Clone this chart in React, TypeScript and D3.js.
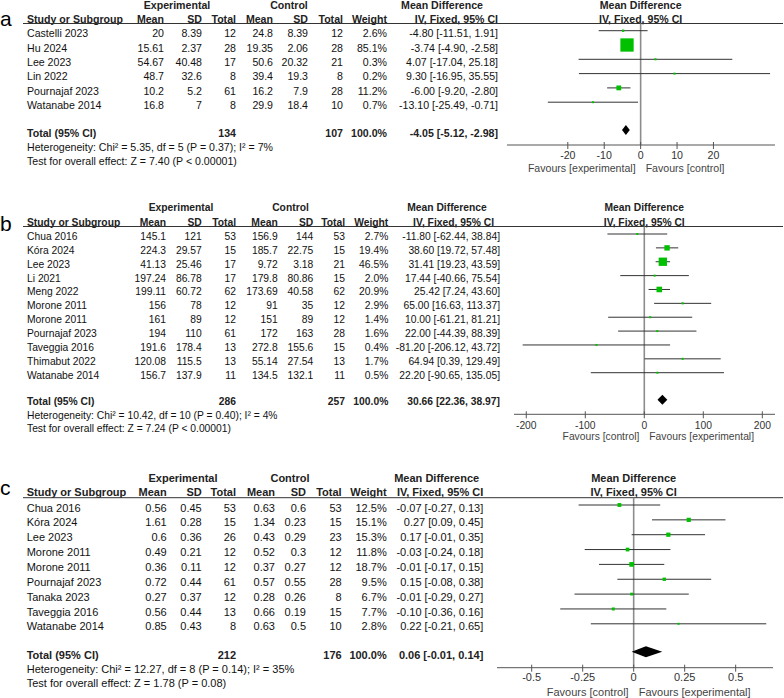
import React from 'react';
import * as d3 from 'd3';

// ---- panel a ----
const aStudy = ['Castelli 2023', 'Hu 2024', 'Lee 2023', 'Lin 2022', 'Pournajaf 2023', 'Watanabe 2014'];
const aExpMean = [20, 15.61, 54.67, 48.7, 10.2, 16.8];
const aExpSD = [8.39, 2.37, 40.48, 32.6, 5.2, 7];
const aExpN = [12, 28, 17, 8, 61, 8];
const aCtrlMean = [24.8, 19.35, 50.6, 39.4, 16.2, 29.9];
const aCtrlSD = [8.39, 2.06, 20.32, 19.3, 7.9, 18.4];
const aCtrlN = [12, 28, 21, 8, 28, 10];
const aWeight = [2.6, 85.1, 0.3, 0.2, 11.2, 0.7];
const aMD = [-4.8, -3.74, 4.07, 9.3, -6.0, -13.1];
const aLo = [-11.51, -4.9, -17.04, -16.95, -9.2, -25.49];
const aHi = [1.91, -2.58, 25.18, 35.55, -2.8, -0.71];
const aTotal = [134, 107]; // exp N, ctrl N
const aPooled = [-4.05, -5.12, -2.98];
const aTicks = [-20, -10, 0, 10, 20];
const aTickLabels = ['-20', '-10', '0', '10', '20'];
const aFavours = ['Favours [experimental]', 'Favours [control]'];
const aHet = 'Heterogeneity: Chi² = 5.35, df = 5 (P = 0.37); I² = 7%';
const aTest = 'Test for overall effect: Z = 7.40 (P < 0.00001)';

// ---- panel b ----
const bStudy = ['Chua 2016', 'Kóra 2024', 'Lee 2023', 'Li 2021', 'Meng 2022', 'Morone 2011', 'Morone 2011', 'Pournajaf 2023', 'Taveggia 2016', 'Thimabut 2022', 'Watanabe 2014'];
const bExpMean = [145.1, 224.3, 41.13, 197.24, 199.11, 156, 161, 194, 191.6, 120.08, 156.7];
const bExpSD = [121, 29.57, 25.46, 86.78, 60.72, 78, 89, 110, 178.4, 115.5, 137.9];
const bExpN = [53, 15, 17, 17, 62, 12, 12, 61, 13, 13, 11];
const bCtrlMean = [156.9, 185.7, 9.72, 179.8, 173.69, 91, 151, 172, 272.8, 55.14, 134.5];
const bCtrlSD = [144, 22.75, 3.18, 80.86, 40.58, 35, 89, 163, 155.6, 27.54, 132.1];
const bCtrlN = [53, 15, 21, 15, 62, 12, 12, 28, 15, 13, 11];
const bWeight = [2.7, 19.4, 46.5, 2.0, 20.9, 2.9, 1.4, 1.6, 0.4, 1.7, 0.5];
const bMD = [-11.8, 38.6, 31.41, 17.44, 25.42, 65.0, 10.0, 22.0, -81.2, 64.94, 22.2];
const bLo = [-62.44, 19.72, 19.23, -40.66, 7.24, 16.63, -61.21, -44.39, -206.12, 0.39, -90.65];
const bHi = [38.84, 57.48, 43.59, 75.54, 43.6, 113.37, 81.21, 88.39, 43.72, 129.49, 135.05];
const bTotal = [286, 257];
const bPooled = [30.66, 22.36, 38.97];
const bTicks = [-200, -100, 0, 100, 200];
const bTickLabels = ['-200', '-100', '0', '100', '200'];
const bFavours = ['Favours [control]', 'Favours [experimental]'];
const bHet = 'Heterogeneity: Chi² = 10.42, df = 10 (P = 0.40); I² = 4%';
const bTest = 'Test for overall effect: Z = 7.24 (P < 0.00001)';

// ---- panel c ----
const cStudy = ['Chua 2016', 'Kóra 2024', 'Lee 2023', 'Morone 2011', 'Morone 2011', 'Pournajaf 2023', 'Tanaka 2023', 'Taveggia 2016', 'Watanabe 2014'];
const cExpMean = [0.56, 1.61, 0.6, 0.49, 0.36, 0.72, 0.27, 0.56, 0.85];
const cExpSD = [0.45, 0.28, 0.36, 0.21, 0.11, 0.44, 0.37, 0.44, 0.43];
const cExpN = [53, 15, 26, 12, 12, 61, 12, 13, 8];
const cCtrlMean = [0.63, 1.34, 0.43, 0.52, 0.37, 0.57, 0.28, 0.66, 0.63];
const cCtrlSD = [0.6, 0.23, 0.29, 0.3, 0.27, 0.55, 0.26, 0.19, 0.5];
const cCtrlN = [53, 15, 23, 12, 12, 28, 8, 15, 10];
const cWeight = [12.5, 15.1, 15.3, 11.8, 18.7, 9.5, 6.7, 7.7, 2.8];
const cMD = [-0.07, 0.27, 0.17, -0.03, -0.01, 0.15, -0.01, -0.1, 0.22];
const cLo = [-0.27, 0.09, -0.01, -0.24, -0.17, -0.08, -0.29, -0.36, -0.21];
const cHi = [0.13, 0.45, 0.35, 0.18, 0.15, 0.38, 0.27, 0.16, 0.65];
const cTotal = [212, 176];
const cPooled = [0.06, -0.01, 0.14];
const cTicks = [-0.5, -0.25, 0, 0.25, 0.5];
const cTickLabels = ['-0.5', '-0.25', '0', '0.25', '0.5'];
const cFavours = ['Favours [control]', 'Favours [experimental]'];
const cHet = 'Heterogeneity: Chi² = 12.27, df = 8 (P = 0.14); I² = 35%';
const cTest = 'Test for overall effect: Z = 1.78 (P = 0.08)';

const FONT = '"Liberation Sans", Arial, Helvetica, sans-serif';

const panels = [
  {
    label: 'a', study: aStudy, expMean: aExpMean, expSD: aExpSD, expN: aExpN,
    ctrlMean: aCtrlMean, ctrlSD: aCtrlSD, ctrlN: aCtrlN, weight: aWeight,
    md: aMD, lo: aLo, hi: aHi, total: aTotal, pooled: aPooled,
    ticks: aTicks, tickLabels: aTickLabels, favours: aFavours, het: aHet, test: aTest,
    fs: 10.6, labelY: 26,
    cols: [27, 164, 202, 236, 273, 308, 343, 387, 498], ciHeadX: 498,
    groupX: [177, 289, 442], head1Y: 9, head2Y: 22.5, lineY: 23.5,
    rowY0: 30.7, rowStep: 14.3, textDy: 6.6,
    totalY: 136.5, diamondY: 130, diamondH: 5, hetY: 151, testY: 165,
    domain: [-36.7, 36.9], axisX: [507, 775], axisY: 145, tickLabY: 158.8, favY: 171.8,
    sq: 1.44,
  },
  {
    label: 'b', study: bStudy, expMean: bExpMean, expSD: bExpSD, expN: bExpN,
    ctrlMean: bCtrlMean, ctrlSD: bCtrlSD, ctrlN: bCtrlN, weight: bWeight,
    md: bMD, lo: bLo, hi: bHi, total: bTotal, pooled: bPooled,
    ticks: bTicks, tickLabels: bTickLabels, favours: bFavours, het: bHet, test: bTest,
    fs: 10.3, labelY: 231,
    cols: [27, 166, 201.7, 236, 277.7, 313.3, 345, 388.3, 500], ciHeadX: 494,
    groupX: [181, 290.5, 447], head1Y: 211.3, head2Y: 225.7, lineY: 226.5,
    rowY0: 234, rowStep: 13.87, textDy: 6,
    totalY: 405.4, diamondY: 399.7, diamondH: 5, hetY: 418.7, testY: 432,
    domain: [-220.8, 221.5], axisX: [514, 775], axisY: 414.3, tickLabY: 428.7, favY: 440.4,
    sq: 1.22,
  },
  {
    label: 'c', study: cStudy, expMean: cExpMean, expSD: cExpSD, expN: cExpN,
    ctrlMean: cCtrlMean, ctrlSD: cCtrlSD, ctrlN: cCtrlN, weight: cWeight,
    md: cMD, lo: cLo, hi: cHi, total: cTotal, pooled: cPooled,
    ticks: cTicks, tickLabels: cTickLabels, favours: cFavours, het: cHet, test: cTest,
    fs: 11.0, labelY: 495,
    cols: [26.7, 166.7, 201.7, 236, 275, 306, 341.7, 386.7, 483.3], ciHeadX: 483.3,
    groupX: [183, 290, 436.7], head1Y: 481.6, head2Y: 495.6, lineY: 497.7,
    rowY0: 505, rowStep: 14.85, textDy: 6.6,
    totalY: 659, diamondY: 651.7, diamondH: 5.5, hetY: 673.2, testY: 687.2,
    domain: [-0.67, 0.683], axisX: [497, 773], axisY: 667.7, tickLabY: 680.6, favY: 695.6,
    sq: 1.08,
  },
];

const f2 = (v: number) => v.toFixed(2);
const ciText = (m: number, l: number, h: number) => `${f2(m)} [${f2(l)}, ${f2(h)}]`;

function ForestPanel({ p }: { p: any }) {
  const x = d3.scaleLinear().domain(p.domain).range(p.axisX);
  const n = p.study.length;
  const y = d3.scaleLinear().domain([0, n - 1]).range([p.rowY0, p.rowY0 + p.rowStep * (n - 1)]);
  const c = p.cols;
  const x0 = x(0);
  const [pm, pl, ph] = p.pooled;
  const diamond = d3.line()([
    [x(pl), p.diamondY], [x(pm), p.diamondY - p.diamondH],
    [x(ph), p.diamondY], [x(pm), p.diamondY + p.diamondH],
  ]) + 'Z';
  const headCols = ['Mean', 'SD', 'Total', 'Mean', 'SD', 'Total', 'Weight'];

  return (
    <g fontFamily={FONT} fontSize={p.fs} fill="#111">
      <text x={0} y={p.labelY} fontSize={21} fill="#000">{p.label}</text>

      {/* table header */}
      <g fontWeight="bold" fill="#222">
        <text x={p.groupX[0]} y={p.head1Y} textAnchor="middle">Experimental</text>
        <text x={p.groupX[1]} y={p.head1Y} textAnchor="middle">Control</text>
        <text x={p.groupX[2]} y={p.head1Y} textAnchor="middle">Mean Difference</text>
        <text x={c[0]} y={p.head2Y}>Study or Subgroup</text>
        {headCols.map((h, i) => (
          <text key={i} x={c[i + 1]} y={p.head2Y} textAnchor="end">{h}</text>
        ))}
        <text x={p.ciHeadX} y={p.head2Y} textAnchor="end">IV, Fixed, 95% CI</text>
        <text x={x0} y={p.head1Y} textAnchor="middle">Mean Difference</text>
        <text x={x0} y={p.head2Y} textAnchor="middle">IV, Fixed, 95% CI</text>
      </g>
      <line x1={23} x2={783} y1={p.lineY} y2={p.lineY} stroke="#333" strokeWidth={1} />

      {/* study rows */}
      {p.study.map((s: string, i: number) => {
        const ty = y(i) + p.textDy;
        const vals = [p.expMean[i], p.expSD[i], p.expN[i], p.ctrlMean[i], p.ctrlSD[i], p.ctrlN[i]];
        return (
          <g key={i}>
            <text x={c[0]} y={ty}>{s}</text>
            {vals.map((v: number, j: number) => (
              <text key={j} x={c[j + 1]} y={ty} textAnchor="end">{String(v)}</text>
            ))}
            <text x={c[7]} y={ty} textAnchor="end">{p.weight[i].toFixed(1)}%</text>
            <text x={c[8]} y={ty} textAnchor="end">{ciText(p.md[i], p.lo[i], p.hi[i])}</text>
          </g>
        );
      })}

      {/* total */}
      <g fontWeight="bold" fill="#222">
        <text x={c[0]} y={p.totalY}>Total (95% CI)</text>
        <text x={c[3]} y={p.totalY} textAnchor="end">{p.total[0]}</text>
        <text x={c[6]} y={p.totalY} textAnchor="end">{p.total[1]}</text>
        <text x={c[7]} y={p.totalY} textAnchor="end">100.0%</text>
        <text x={c[8]} y={p.totalY} textAnchor="end">{ciText(pm, pl, ph)}</text>
      </g>
      <text x={c[0]} y={p.hetY}>{p.het}</text>
      <text x={c[0]} y={p.testY}>{p.test}</text>

      {/* plot */}
      <line x1={x0} x2={x0} y1={p.lineY} y2={p.axisY} stroke="#8c8c8c" strokeWidth={1.6} />
      {p.study.map((s: string, i: number) => {
        const side = Math.max(2, p.sq * Math.sqrt(p.weight[i]));
        return (
          <g key={'m' + i}>
            <line x1={x(p.lo[i])} x2={x(p.hi[i])} y1={y(i)} y2={y(i)} stroke="#333" strokeWidth={1} />
            <rect x={x(p.md[i]) - side / 2} y={y(i) - side / 2} width={side} height={side} fill="#00c000" />
          </g>
        );
      })}
      <path d={diamond} fill="#000" />

      {/* axis */}
      <line x1={p.axisX[0]} x2={p.axisX[1]} y1={p.axisY} y2={p.axisY} stroke="#555" strokeWidth={1} />
      {p.ticks.map((t: number, i: number) => (
        <g key={'t' + i}>
          <line x1={x(t)} x2={x(t)} y1={p.axisY - 3} y2={p.axisY + 4} stroke="#555" strokeWidth={1} />
          <text x={x(t)} y={p.tickLabY} textAnchor="middle" fill="#333">{p.tickLabels[i]}</text>
        </g>
      ))}
      <text x={x0 - 5} y={p.favY} textAnchor="end" fill="#444">{p.favours[0]}</text>
      <text x={x0 + 5} y={p.favY} fill="#444">{p.favours[1]}</text>
    </g>
  );
}

export default function App() {
  return (
    <div style={{ position: 'absolute', left: 0, top: 0 }}>
      <svg width={784} height={698} style={{ display: 'block', background: '#fff' }}>
        {panels.map((p) => (
          <ForestPanel key={p.label} p={p} />
        ))}
      </svg>
    </div>
  );
}
